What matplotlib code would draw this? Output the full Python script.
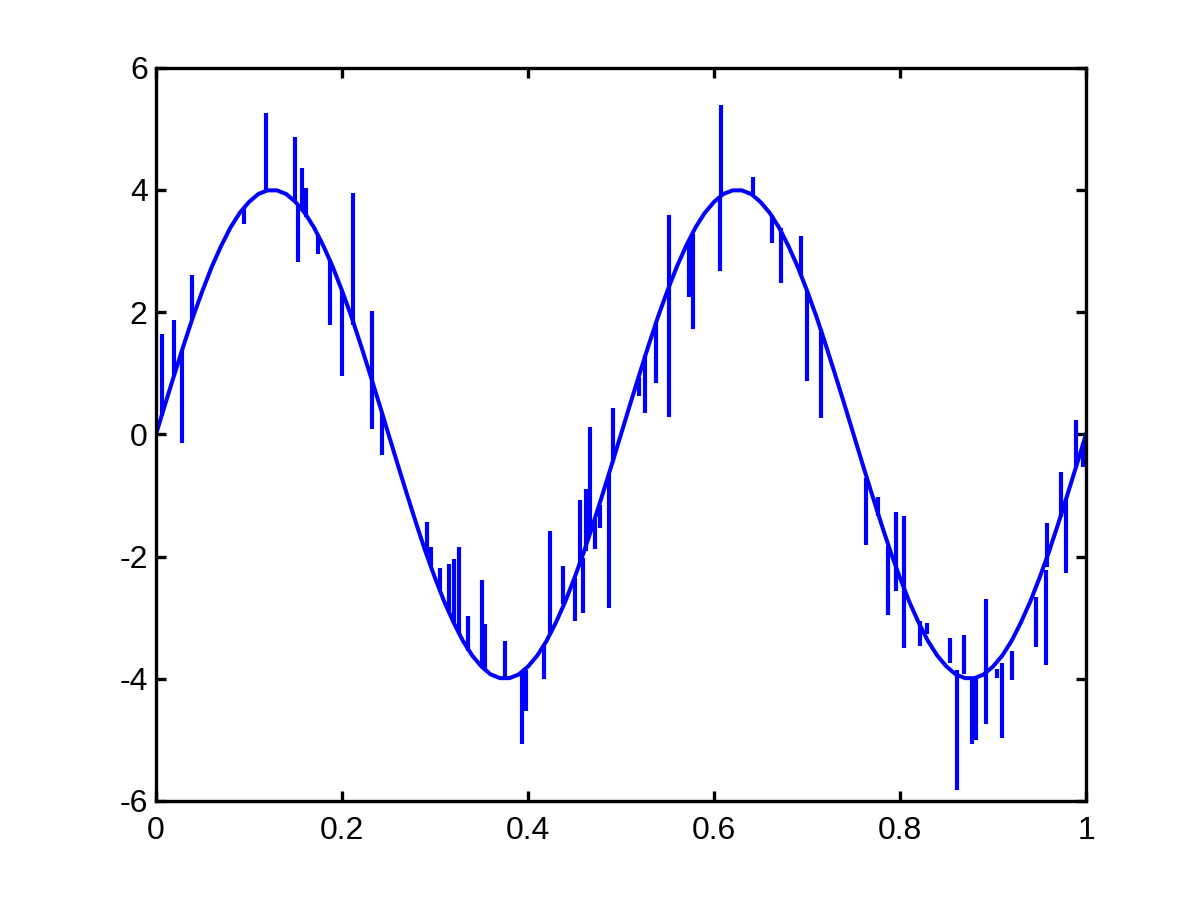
import matplotlib
matplotlib.use("Agg")
import matplotlib.pyplot as plt

plt.rcParams["font.family"] = ["Liberation Sans", "DejaVu Sans"]
plt.rcParams["axes.unicode_minus"] = False

# smooth signal, read at t = 0, 0.01, ..., 1
t_base = [k / 100 for k in range(101)]
y_base = [0.00, 0.50, 0.99, 1.47, 1.93, 2.35, 2.74, 3.08, 3.38, 3.62, 3.80,
          3.93, 3.99, 3.99, 3.93, 3.80, 3.62, 3.38, 3.08, 2.74, 2.35, 1.93,
          1.47, 0.99, 0.50,
          0.00, -0.50, -0.99, -1.47, -1.93, -2.35, -2.74, -3.08, -3.38, -3.62,
          -3.80, -3.93, -3.99, -3.99, -3.93, -3.80, -3.62, -3.38, -3.08, -2.74,
          -2.35, -1.93, -1.47, -0.99, -0.50,
          0.00, 0.50, 0.99, 1.47, 1.93, 2.35, 2.74, 3.08, 3.38, 3.62, 3.80,
          3.93, 3.99, 3.99, 3.93, 3.80, 3.62, 3.38, 3.08, 2.74, 2.35, 1.93,
          1.47, 0.99, 0.50,
          0.00, -0.50, -0.99, -1.47, -1.93, -2.35, -2.74, -3.08, -3.38, -3.62,
          -3.80, -3.93, -3.99, -3.99, -3.93, -3.80, -3.62, -3.38, -3.08, -2.74,
          -2.35, -1.93, -1.47, -0.99, -0.50,
          0.00]

# noise spikes: position, lower end, upper end
spike_t = [0.006, 0.019, 0.028, 0.039, 0.095, 0.118, 0.149, 0.153, 0.157, 0.161,
           0.174, 0.187, 0.200, 0.212, 0.232, 0.243, 0.291, 0.296, 0.305, 0.315,
           0.320, 0.326, 0.336, 0.350, 0.354, 0.375, 0.394, 0.398, 0.417, 0.424,
           0.438, 0.450, 0.456, 0.459, 0.462, 0.467, 0.472, 0.477, 0.487, 0.491,
           0.519, 0.526, 0.538, 0.552, 0.573, 0.577, 0.606, 0.608, 0.642, 0.662,
           0.672, 0.694, 0.700, 0.715, 0.763, 0.776, 0.787, 0.796, 0.804, 0.821,
           0.829, 0.854, 0.861, 0.869, 0.877, 0.882, 0.893, 0.904, 0.910, 0.920,
           0.946, 0.957, 0.958, 0.973, 0.979, 0.989, 0.997]
spike_lo = [0.30, 0.95, -0.15, 1.88, 3.44, 3.99, 3.82, 2.82, 3.68, 3.56,
            2.95, 1.79, 0.95, 1.79, 0.08, -0.34, -1.96, -2.15, -2.54, -2.91,
            -3.08, -3.27, -3.54, -3.81, -3.87, -4.00, -5.07, -4.52, -4.00, -3.27,
            -2.78, -3.05, -2.12, -2.93, -1.91, -1.61, -1.87, -1.54, -2.84, -0.45,
            0.62, 0.34, 0.84, 0.28, 2.25, 1.72, 2.67, 3.90, 3.89, 3.13,
            2.48, 2.59, 0.87, 0.26, -1.82, -1.33, -2.95, -2.56, -3.50, -3.47,
            -3.27, -3.75, -5.82, -3.93, -5.07, -5.00, -4.74, -3.98, -4.97, -4.02,
            -3.48, -3.77, -2.17, -1.35, -2.27, -0.55, -0.54]
spike_hi = [1.64, 1.87, 1.38, 2.60, 3.72, 5.25, 4.87, 3.75, 4.36, 4.03,
            3.26, 2.85, 2.35, 3.95, 2.02, 0.35, -1.44, -1.85, -2.18, -2.13,
            -2.04, -1.84, -2.98, -2.39, -3.10, -3.38, -3.90, -3.86, -3.47, -1.59,
            -2.16, -2.35, -1.08, -2.02, -0.89, 0.12, -1.39, -1.15, -0.65, 0.43,
            0.94, 1.29, 1.84, 3.59, 3.17, 3.28, 3.88, 5.38, 4.21, 3.59,
            3.37, 3.25, 2.35, 1.73, -0.71, -1.02, -1.83, -1.28, -1.34, -3.05,
            -3.08, -3.34, -3.85, -3.28, -3.99, -4.00, -2.69, -3.84, -3.75, -3.54,
            -2.67, -2.22, -1.46, -0.62, -1.05, 0.24, -0.15]

x_ticks = [0, 0.2, 0.4, 0.6, 0.8, 1]
x_labels = ["0", "0.2", "0.4", "0.6", "0.8", "1"]
y_ticks = [-6, -4, -2, 0, 2, 4, 6]
y_labels = ["-6", "-4", "-2", "0", "2", "4", "6"]

fig = plt.figure(figsize=(12, 9), dpi=100)
ax = fig.add_axes([0.13, 0.11, 0.775, 0.815])

ax.plot(t_base, y_base, color="#0000ff", linewidth=2.9)
ax.vlines(spike_t, spike_lo, spike_hi, color="#0000ff", linewidth=3.0)

ax.set_xlim(0, 1)
ax.set_ylim(-6, 6)
ax.set_xticks(x_ticks)
ax.set_xticklabels(x_labels)
ax.set_yticks(y_ticks)
ax.set_yticklabels(y_labels)

for side in ax.spines.values():
    side.set_linewidth(2.4)
ax.tick_params(direction="in", length=7, width=2.4, top=True, right=True,
               labelsize=23, colors="black")
ax.tick_params(axis="x", pad=11)
ax.tick_params(axis="y", pad=6)

fig.savefig("out.png", dpi=100, facecolor="white")
plt.close(fig)
